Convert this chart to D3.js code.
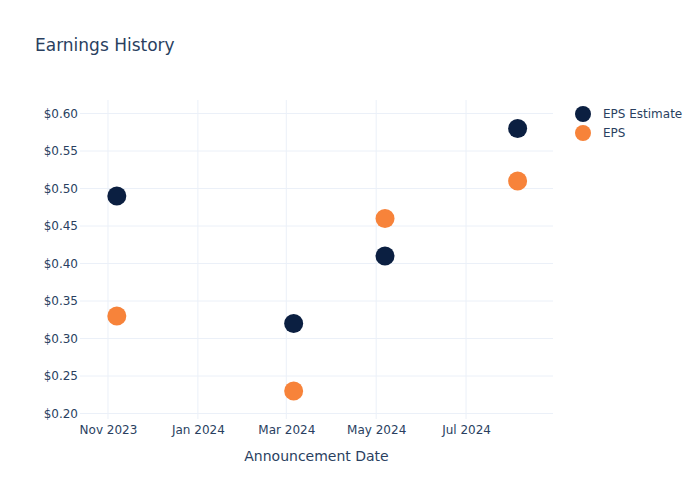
<!DOCTYPE html>
<html>
<head>
<meta charset="utf-8">
<script src="https://cdn.jsdelivr.net/npm/d3@7"></script>
<style>
  body { margin: 0; background: #fff; }
  text { font-family: "DejaVu Sans", sans-serif; }
</style>
</head>
<body>
<svg id="chart" width="700" height="500"></svg>
<script>
const dates = ["2023-11-07", "2024-03-06", "2024-05-07", "2024-08-05"];
const epsEstimate = [0.49, 0.32, 0.41, 0.58];
const eps = [0.33, 0.23, 0.46, 0.51];
const yTicks = [0.20, 0.25, 0.30, 0.35, 0.40, 0.45, 0.50, 0.55, 0.60];
const xTicks = ["2023-11-01", "2024-01-01", "2024-03-01", "2024-05-01", "2024-07-01"];
const seriesNames = ["EPS Estimate", "EPS"];
const colors = ["#0b1f41", "#f7833a"];

const parse = d3.utcParse("%Y-%m-%d");
const svg = d3.select("#chart");
const plotL = 80, plotR = 553, plotT = 100, plotB = 419;

const x = d3.scaleUtc()
  .domain([parse("2023-10-13"), parse("2024-08-29")])
  .range([plotL, plotR]);
const y = d3.scaleLinear()
  .domain([0.1927, 0.618])
  .range([plotB, plotT]);

const textColor = "#2a3f5f";
const gridColor = "#ebf0f8";

// grid
svg.append("g").selectAll("line").data(yTicks).join("line")
  .attr("x1", plotL).attr("x2", plotR)
  .attr("y1", d => y(d)).attr("y2", d => y(d))
  .attr("stroke", gridColor).attr("stroke-width", 1);
svg.append("g").selectAll("line").data(xTicks).join("line")
  .attr("x1", d => x(parse(d))).attr("x2", d => x(parse(d)))
  .attr("y1", plotT).attr("y2", plotB)
  .attr("stroke", gridColor).attr("stroke-width", 1);

// axes
const yAxis = d3.axisLeft(y).tickValues(yTicks).tickSize(0).tickPadding(2)
  .tickFormat(d => "$" + d3.format(".2f")(d));
const gy = svg.append("g").attr("transform", `translate(${plotL},0)`).call(yAxis);
gy.select(".domain").remove();
gy.selectAll("text").attr("fill", textColor).style("font-size", "12px")
  .style("font-family", "'DejaVu Sans', sans-serif");

const xAxis = d3.axisBottom(x).tickValues(xTicks.map(parse)).tickSize(0).tickPadding(6)
  .tickFormat(d3.utcFormat("%b %Y"));
const gx = svg.append("g").attr("transform", `translate(0,${plotB})`).call(xAxis);
gx.select(".domain").remove();
gx.selectAll("text").attr("fill", textColor).style("font-size", "12px")
  .style("font-family", "'DejaVu Sans', sans-serif");

// points
const series = [epsEstimate, eps];
series.forEach((vals, i) => {
  svg.append("g").selectAll("circle").data(vals).join("circle")
    .attr("cx", (d, j) => x(parse(dates[j])))
    .attr("cy", d => y(d))
    .attr("r", 9.5)
    .attr("fill", colors[i]);
});

// title
svg.append("text").attr("x", 35).attr("y", 51)
  .attr("fill", textColor).style("font-size", "17px").text("Earnings History");

// axis title
svg.append("text").attr("x", (plotL + plotR) / 2).attr("y", 461)
  .attr("text-anchor", "middle").attr("fill", textColor)
  .style("font-size", "14px").text("Announcement Date");

// legend
seriesNames.forEach((name, i) => {
  const ly = 114 + i * 19;
  svg.append("circle").attr("cx", 583).attr("cy", ly).attr("r", 8).attr("fill", colors[i]);
  svg.append("text").attr("x", 603).attr("y", ly + 4.3)
    .attr("fill", textColor).style("font-size", "12px").text(name);
});
</script>
</body>
</html>
